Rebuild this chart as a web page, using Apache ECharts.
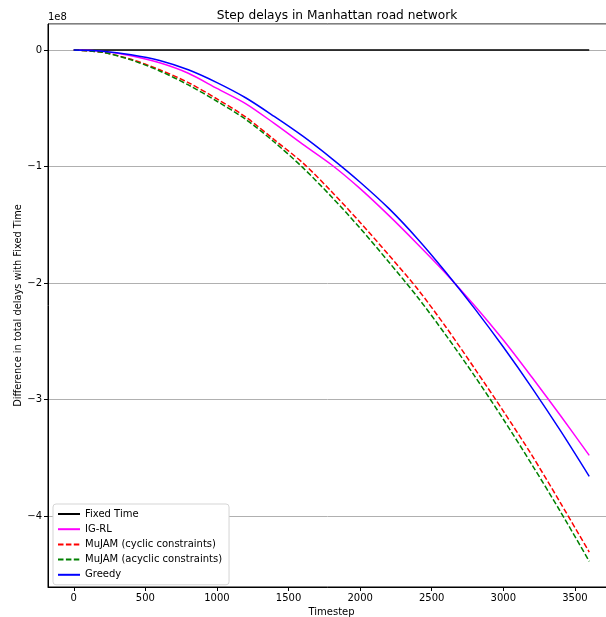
<!DOCTYPE html>
<html>
<head>
<meta charset="utf-8">
<script src="https://cdn.jsdelivr.net/npm/echarts@6/dist/echarts.min.js"></script>
<style>
html,body{margin:0;padding:0;background:#fff;}
#c{width:606px;height:617px;}
</style>
</head>
<body>
<div id="c"></div>
<script>
// values in units of 1e8
var timesteps = [0,200,400,600,800,1000,1200,1400,1600,1800,2000,2200,2400,2600,2800,3000,3200,3400,3600];
var fixedTime = [0,0,0,0,0,0,0,0,0,0,0,0,0,0,0,0,0,0,0];
var igRL      = [0,-0.012,-0.05,-0.11,-0.20,-0.33,-0.46,-0.63,-0.81,-0.985,-1.19,-1.42,-1.665,-1.92,-2.195,-2.49,-2.81,-3.14,-3.48];
var mujamCyc  = [0,-0.02,-0.08,-0.17,-0.28,-0.42,-0.575,-0.77,-0.97,-1.215,-1.48,-1.76,-2.05,-2.38,-2.735,-3.10,-3.48,-3.89,-4.31];
var mujamAcyc = [0,-0.02,-0.085,-0.18,-0.30,-0.44,-0.595,-0.79,-1.01,-1.26,-1.53,-1.82,-2.12,-2.45,-2.80,-3.17,-3.56,-3.965,-4.389];
var greedy    = [0,-0.01,-0.04,-0.09,-0.17,-0.28,-0.41,-0.57,-0.74,-0.93,-1.135,-1.36,-1.62,-1.91,-2.22,-2.55,-2.90,-3.27,-3.66];
var seriesNames = ['Fixed Time','IG-RL','MuJAM (cyclic constraints)','MuJAM (acyclic constraints)','Greedy'];

function pairs(arr){ return timesteps.map(function(t,i){ return [t, arr[i]]; }); }
var FONT = 'DejaVu Sans';
var chart = echarts.init(document.getElementById('c'), null, {renderer:'canvas'});
function mk(name, data, color, dashed){
  return {
    name: name, type: 'line', data: pairs(data), symbol: 'none', showSymbol: false, smooth: 0.3,
    lineStyle: {color: color, width: 1.5, type: dashed ? [5.5, 2.4] : 'solid'},
    itemStyle: {color: color}, animation: false
  };
}
chart.setOption({
  animation: false,
  textStyle: {fontFamily: FONT},
  title: {
    text: 'Step delays in Manhattan road network', left: 332, top: 5, textAlign: 'center',
    textStyle: {fontFamily: FONT, fontSize: 12.2, fontWeight: 'normal', color: '#000'}
  },
  grid: {left: 48, top: 24, right: -9, bottom: 30, outerBoundsMode: 'none', containLabel: false,
         show: true, borderColor: '#000', borderWidth: 1, backgroundColor: 'transparent'},
  legend: {
    orient: 'vertical', left: 53, top: 504, data: seriesNames,
    itemWidth: 22, itemHeight: 10, itemGap: 5.2,
    padding: [5, 7, 5, 4],
    backgroundColor: '#fff', borderColor: '#d5d5d5', borderWidth: 1, borderRadius: 3,
    itemStyle: {opacity: 0},
    textStyle: {fontFamily: FONT, fontSize: 10, color: '#000'}
  },
  xAxis: {
    type: 'value', min: -180, max: 3780, splitNumber: 8,
    name: 'Timestep', nameLocation: 'middle', nameGap: 20, nameMoveOverlap: false,
    nameTextStyle: {fontFamily: FONT, fontSize: 10, color: '#000'},
    axisLine: {show: true, onZero: false, lineStyle: {color: '#000', width: 1}},
    axisTick: {show: true, inside: false, length: 4, lineStyle: {color: '#000'}},
    axisLabel: {showMinLabel: false, showMaxLabel: false, fontFamily: FONT, fontSize: 10, color: '#000', margin: 6,
      formatter: function(v){ return String(v); }},
    splitLine: {show: false}
  },
  yAxis: {
    type: 'value', min: -4.61, max: 0.223, splitNumber: 5,
    name: 'Difference in total delays with Fixed Time', nameLocation: 'middle', nameGap: 25, nameMoveOverlap: false,
    nameTextStyle: {fontFamily: FONT, fontSize: 9.8, color: '#000'},
    axisLine: {show: true, onZero: false, lineStyle: {color: '#000', width: 1}},
    axisTick: {show: true, inside: false, length: 4, lineStyle: {color: '#000'}},
    axisLabel: {
      showMinLabel: false, showMaxLabel: false, fontFamily: FONT, fontSize: 10, color: '#000', margin: 6,
      formatter: function(v){ return v === 0 ? '0' : (v < 0 ? '\u2212' + Math.abs(v) : String(v)); }
    },
    splitLine: {show: true, lineStyle: {color: '#b0b0b0', width: 1}}
  },
  graphic: [{
    type: 'text', left: 48, top: 12,
    style: {text: '1e8', fontFamily: FONT, fontSize: 10, fill: '#000'}
  }],
  series: [
    mk(seriesNames[0], fixedTime, '#000000', false),
    mk(seriesNames[1], igRL, '#ff00ff', false),
    mk(seriesNames[2], mujamCyc, '#ff0000', true),
    mk(seriesNames[3], mujamAcyc, '#008000', true),
    mk(seriesNames[4], greedy, '#0000ff', false)
  ]
});
</script>
</body>
</html>
